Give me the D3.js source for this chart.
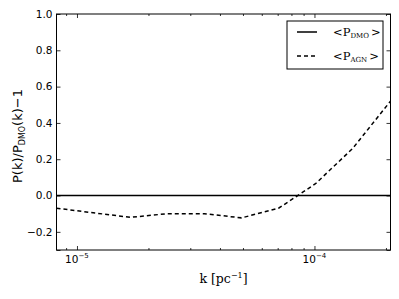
<!DOCTYPE html>
<html>
  <head>
    <meta charset="utf-8" />
    <script src="https://cdn.jsdelivr.net/npm/d3@7/dist/d3.min.js"></script>
    <style>
      body {
        margin: 0;
        background: white;
      }
      text {
        fill: black;
      }
    </style>
  </head>
  <body>
    <svg id="chart" width="399" height="299"></svg>
    <script type="text/javascript">
      "use strict";

      // values
      const kValues = [8.2e-6, 1.17e-5, 1.68e-5, 2.4e-5, 3.44e-5, 4.93e-5, 7.06e-5, 1.01e-4, 1.45e-4, 2.09e-4];
      const agnRatio = [-0.07, -0.095, -0.12, -0.10, -0.10, -0.123, -0.07, 0.065, 0.26, 0.52];
      const dmoRatio = [0, 0, 0, 0, 0, 0, 0, 0, 0, 0];
      const yTicks = [-0.2, 0.0, 0.2, 0.4, 0.6, 0.8, 1.0];
      const xMajorTicks = [1e-5, 1e-4];
      const xTickExponents = ["\u22125", "\u22124"];
      const xMinorTicks = [9e-6, 2e-5, 3e-5, 4e-5, 5e-5, 6e-5, 7e-5, 8e-5, 9e-5, 2e-4];

      const margin = { left: 56.5, right: 8.5, top: 14, bottom: 49 },
        width = 399 - margin.left - margin.right,
        height = 299 - margin.top - margin.bottom;

      const svg = d3.select("#chart");
      const g = svg
        .append("g")
        .attr("transform", `translate(${margin.left},${margin.top})`);

      const x = d3
        .scaleLog()
        .domain([8.2e-6, 2.09e-4])
        .range([0, width]);

      const y = d3
        .scaleLinear()
        .domain([-0.3, 1.0])
        .range([height, 0]);

      const sans = "DejaVu Sans, sans-serif",
        serif = "DejaVu Serif, serif";

      // ticks point inward on all four sides
      function ticks(axis, size) {
        return axis.tickSize(-size).tickFormat("").tickSizeOuter(0);
      }

      g.append("g")
        .attr("transform", `translate(0,${height})`)
        .call(ticks(d3.axisBottom(x).tickValues(xMajorTicks), 4));
      g.append("g")
        .attr("transform", `translate(0,${height})`)
        .call(ticks(d3.axisBottom(x).tickValues(xMinorTicks), 2));
      g.append("g").call(ticks(d3.axisTop(x).tickValues(xMajorTicks), 4));
      g.append("g").call(ticks(d3.axisTop(x).tickValues(xMinorTicks), 2));
      g.append("g").call(ticks(d3.axisLeft(y).tickValues(yTicks.concat([-0.3])), 4));
      g.append("g")
        .attr("transform", `translate(${width},0)`)
        .call(ticks(d3.axisRight(y).tickValues(yTicks.concat([-0.3])), 4));
      g.selectAll(".domain").remove();
      g.selectAll(".tick line").attr("stroke", "black").attr("stroke-width", 0.8);

      // y tick labels
      g.selectAll(".ylab")
        .data(yTicks)
        .enter()
        .append("text")
        .attr("class", "ylab")
        .attr("x", -4)
        .attr("y", d => y(d))
        .attr("dy", "0.36em")
        .attr("text-anchor", "end")
        .style("font-family", sans)
        .style("font-size", "10.5px")
        .text(d => d3.format(".1f")(d).replace("-", "\u2212"));

      // x tick labels 10^n
      const xl = g
        .selectAll(".xlab")
        .data(xMajorTicks)
        .enter()
        .append("text")
        .attr("class", "xlab")
        .attr("x", d => x(d))
        .attr("y", height + 13)
        .attr("text-anchor", "middle")
        .style("font-family", sans)
        .style("font-size", "10.5px");
      xl.append("tspan").text("10");
      xl.append("tspan")
        .attr("dy", -5)
        .style("font-size", "7px")
        .text((d, i) => xTickExponents[i]);

      // lines
      const line = d3
        .line()
        .x(d => x(d[0]))
        .y(d => y(d[1]));

      g.append("clipPath")
        .attr("id", "clip")
        .append("rect")
        .attr("width", width)
        .attr("height", height);

      g.append("path")
        .datum(d3.zip(kValues, dmoRatio))
        .attr("clip-path", "url(#clip)")
        .attr("d", line)
        .attr("fill", "none")
        .attr("stroke", "black")
        .attr("stroke-width", 1.5);

      g.append("path")
        .datum(d3.zip(kValues, agnRatio))
        .attr("clip-path", "url(#clip)")
        .attr("d", line)
        .attr("fill", "none")
        .attr("stroke", "black")
        .attr("stroke-width", 1.5)
        .attr("stroke-dasharray", "4,3");

      // frame
      g.append("rect")
        .attr("width", width)
        .attr("height", height)
        .attr("fill", "none")
        .attr("stroke", "black")
        .attr("stroke-width", 1);

      // legend
      const legend = g
        .append("g")
        .attr("transform", `translate(${287 - margin.left},${21 - margin.top})`);
      legend
        .append("rect")
        .attr("width", 96)
        .attr("height", 48)
        .attr("fill", "white")
        .attr("stroke", "black")
        .attr("stroke-width", 1);

      const legendItems = [
        { sub: "DMO", dash: null },
        { sub: "AGN", dash: "4,3" }
      ];
      legendItems.forEach((d, i) => {
        const yy = 11 + i * 24;
        legend
          .append("line")
          .attr("x1", 10)
          .attr("x2", 30)
          .attr("y1", yy)
          .attr("y2", yy)
          .attr("stroke", "black")
          .attr("stroke-width", 1.5)
          .attr("stroke-dasharray", d.dash);
        const t = legend
          .append("text")
          .attr("x", 46)
          .attr("y", yy + 4)
          .style("font-family", serif)
          .style("font-size", "11.5px");
        t.append("tspan").text("<P");
        t.append("tspan")
          .attr("dy", 2)
          .style("font-size", "7px")
          .text(d.sub);
        t.append("tspan").attr("dy", -2).attr("dx", 2).text(">");
      });

      // axis titles
      const xt = svg
        .append("text")
        .attr("x", margin.left + width / 2)
        .attr("y", 283)
        .attr("text-anchor", "middle")
        .style("font-family", serif)
        .style("font-size", "12.5px");
      xt.append("tspan").text("k [pc");
      xt.append("tspan").attr("dy", -5).style("font-size", "8px").text("\u22121");
      xt.append("tspan").attr("dy", 5).text("]");

      const yt = svg
        .append("text")
        .attr("transform", `translate(22,${margin.top + height / 2 + 4}) rotate(-90)`)
        .attr("text-anchor", "middle")
        .style("font-family", sans)
        .style("font-size", "13px");
      yt.append("tspan").text("P(k)/P");
      yt.append("tspan").attr("dy", 2.5).style("font-size", "8px").text("DMO");
      yt.append("tspan").attr("dy", -2.5).text("(k)\u22121");
    </script>
  </body>
</html>
